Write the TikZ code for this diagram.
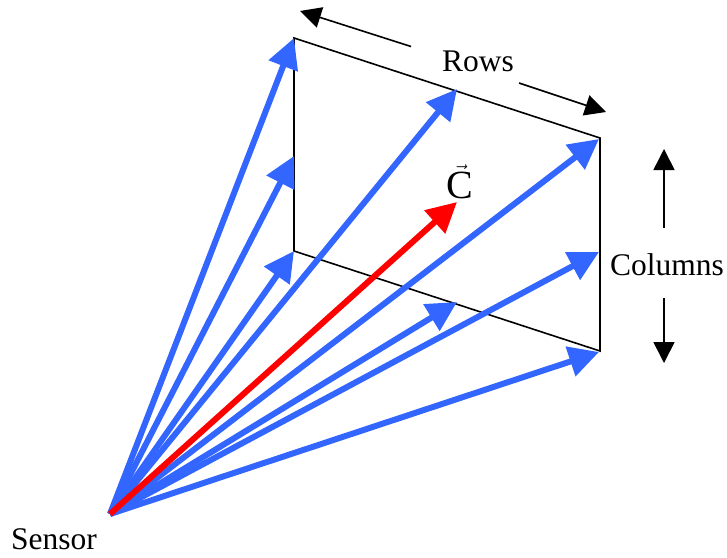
\documentclass[tikz,border=0pt]{standalone}
\usepackage{fontspec}
\setmainfont{Liberation Serif}
\usetikzlibrary{arrows.meta}
\definecolor{rayblue}{RGB}{51,102,255}
\tikzset{
 ray/.style={draw=rayblue,line width=6pt,-{Triangle[length=30pt,width=30pt,fill=rayblue]}},
 redray/.style={draw=red,line width=6pt,-{Triangle[length=30pt,width=30pt,fill=red]}},
 frameline/.style={draw=black,line width=1.6pt},
 dirline/.style={draw=black,line width=1.6pt,-{Triangle[length=21pt,width=21pt]}},
 lbl/.style={font=\fontsize{31.5pt}{36pt}\selectfont,inner sep=0pt,text=black},
 clbl/.style={font=\fontsize{40pt}{44pt}\selectfont,inner sep=0pt,text=black}
}
\begin{document}
\begin{tikzpicture}[x=1pt,y=-1pt]
\useasboundingbox (0,0) rectangle (727,557);
\coordinate (S) at (110,514);
\coordinate (A) at (294,38);
\coordinate (B) at (600,138);
\coordinate (D) at (600,351);
\coordinate (E) at (294,251);
\coordinate (t1) at (457,89);
\coordinate (t2) at (599,139);
\coordinate (t3) at (599,252);
\coordinate (t4) at (599,352);
\coordinate (t5) at (457,302);
\coordinate (t6) at (294,251);
\coordinate (t7) at (457,202);
\coordinate (t0) at (294,156);
\draw[frameline] (A) -- (B) -- (D) -- (E) -- cycle;
\draw[ray] (S) -- (t0);
\draw[ray] (S) -- (A);
\draw[ray] (S) -- (t6);
\draw[ray] (S) -- (t1);
\draw[ray] (S) -- (t2);
\draw[ray] (S) -- (t3);
\draw[ray] (S) -- (t4);
\draw[ray] (S) -- (t5);
\draw[redray] (S) -- (t7);
\coordinate (r1a) at (411,46.5);
\coordinate (r1b) at (300,11);
\coordinate (r2a) at (519,83);
\coordinate (r2b) at (606,112);
\coordinate (c1a) at (664,228);
\coordinate (c1b) at (664,149);
\coordinate (c2a) at (664,298);
\coordinate (c2b) at (664,363);
\draw[dirline] (r1a) -- (r1b);
\draw[dirline] (r2a) -- (r2b);
\draw[dirline] (c1a) -- (c1b);
\draw[dirline] (c2a) -- (c2b);
\node[lbl] (rows) at (478,61) {Rows};
\node[lbl] (cols) at (667,265) {Columns};
\node[lbl] (sens) at (54,539) {Sensor};
\node[clbl] (c) at (460,182) {$\vec{\hbox{C}}$};
\end{tikzpicture}
\end{document}
